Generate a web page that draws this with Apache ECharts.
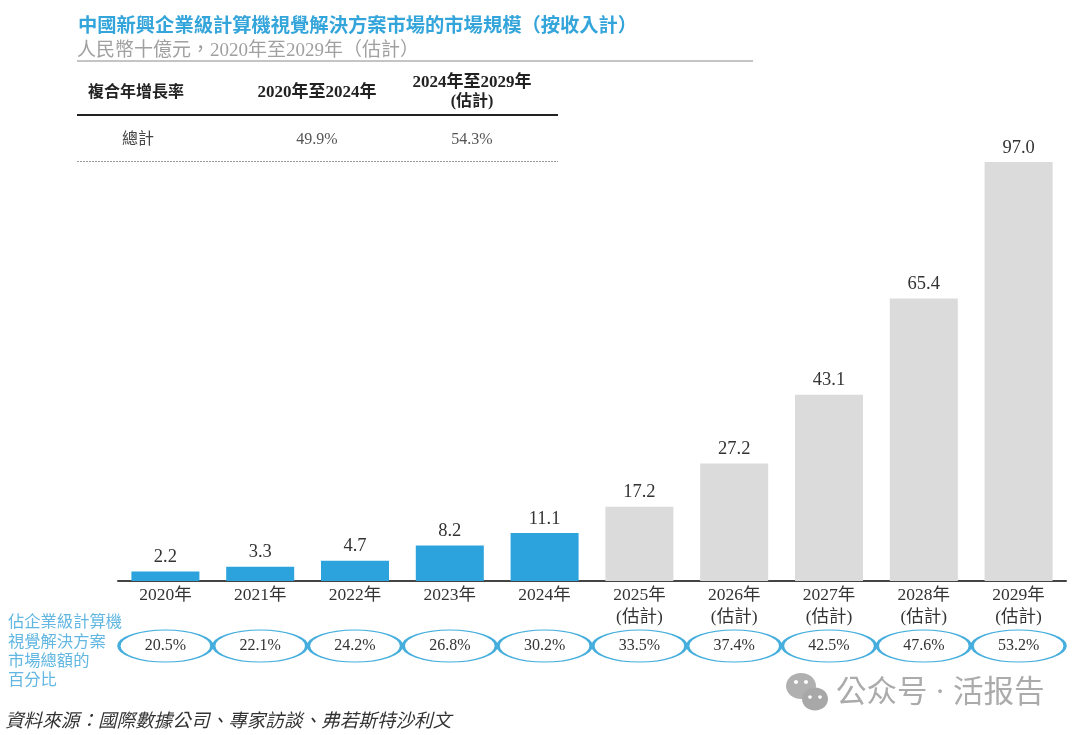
<!DOCTYPE html>
<html>
<head>
<meta charset="utf-8">
<script src="https://cdn.jsdelivr.net/npm/echarts@6/dist/echarts.min.js"></script>
<style>
  html, body { margin: 0; padding: 0; background: #fff; }
  #chart { width: 1080px; height: 735px; }
</style>
</head>
<body>
<div id="chart"></div>
<script>
  const years = ["2020年", "2021年", "2022年", "2023年", "2024年", "2025年\n(估計)", "2026年\n(估計)", "2027年\n(估計)", "2028年\n(估計)", "2029年\n(估計)"];
  const marketSize = [2.2, 3.3, 4.7, 8.2, 11.1, 17.2, 27.2, 43.1, 65.4, 97.0];
  const sharePercent = [20.5, 22.1, 24.2, 26.8, 30.2, 33.5, 37.4, 42.5, 47.6, 53.2];
  const actualYears = 5;

  const titleText = "中國新興企業級計算機視覺解決方案市場的市場規模（按收入計）";
  const subtitleText = "人民幣十億元，2020年至2029年（估計）";
  const cagrHeader = ["複合年增長率", "2020年至2024年", "2024年至2029年", "(估計)"];
  const cagrRow = ["總計", "49.9%", "54.3%"];
  const shareCaption = ["佔企業級計算機", "視覺解決方案", "市場總額的", "百分比"];
  const sourceText = "資料來源：國際數據公司、專家訪談、弗若斯特沙利文";
  const watermarkText = "公众号 · 活报告";

  const BLUE = "#2ca3dc";
  const GREY = "#dbdbdb";
  const FONT = '"Liberation Serif", "Noto Sans CJK TC", serif';
  const ELLIPSE = "path://M0 50A100 50 0 1 1 200 50A100 50 0 1 1 0 50Z";

  const txt = (text, x, y, size, fill, opt = {}) => ({
    type: "text",
    silent: true,
    style: {
      text,
      x,
      y,
      fill,
      font: `${opt.style || "normal"} ${opt.weight || "normal"} ${size}px ${FONT}`,
      textAlign: opt.align || "left",
      textVerticalAlign: "middle",
    },
  });
  const rule = (x1, x2, y, stroke, lineWidth, lineDash) => ({
    type: "line",
    silent: true,
    shape: { x1, y1: y, x2, y2: y },
    style: { stroke, lineWidth, lineDash },
  });
  const blob = (cx, cy, rx, ry, fill) => ({
    type: "ellipse",
    silent: true,
    shape: { cx, cy, rx, ry },
    style: { fill },
  });

  const chart = echarts.init(document.getElementById("chart"));
  chart.setOption({
    animation: false,
    backgroundColor: "#fff",
    textStyle: { fontFamily: FONT },
    grid: [
      { left: 118, width: 948, top: 162, height: 419 },
      { left: 118, width: 948, top: 629, height: 34 },
    ],
    xAxis: [
      {
        type: "category",
        gridIndex: 0,
        data: years,
        axisTick: { show: false },
        axisLine: { lineStyle: { color: "#444", width: 2 } },
        axisLabel: { color: "#333", fontSize: 17.5, lineHeight: 22, margin: 3, fontFamily: FONT, interval: 0 },
      },
      {
        type: "category",
        gridIndex: 1,
        data: years,
        show: false,
      },
    ],
    yAxis: [
      { type: "value", gridIndex: 0, min: 0, max: 97, show: false },
      { type: "category", gridIndex: 1, data: ["share"], show: false },
    ],
    series: [
      {
        type: "bar",
        xAxisIndex: 0,
        yAxisIndex: 0,
        barWidth: 68,
        data: marketSize.map((v, i) => ({
          value: v,
          itemStyle: { color: i < actualYears ? BLUE : GREY },
        })),
        label: {
          show: true,
          position: "top",
          distance: 5,
          color: "#333",
          fontSize: 18.5,
          fontFamily: FONT,
          formatter: (p) => p.value.toFixed(1),
        },
      },
      {
        type: "scatter",
        xAxisIndex: 1,
        yAxisIndex: 1,
        symbol: ELLIPSE,
        symbolKeepAspect: false,
        symbolSize: [93, 32],
        itemStyle: { color: "#fff", borderColor: "#45aedd", borderWidth: 2, opacity: 1 },
        data: sharePercent.map((v, i) => [i, 0, v]),
        label: {
          show: true,
          position: "inside",
          color: "#333",
          fontSize: 16,
          fontFamily: FONT,
          formatter: (p) => p.value[2].toFixed(1) + "%",
        },
      },
    ],
    graphic: {
      elements: [
        txt(titleText, 78, 27, 19.3, "#34a5da", { weight: "bold" }),
        txt(subtitleText, 77, 51, 19, "#a0a0a0"),
        rule(77, 753, 61, "#8a8a8a", 1),

        txt(cagrHeader[0], 88, 93, 16, "#222", { weight: "bold" }),
        txt(cagrHeader[1], 317, 93, 17, "#222", { weight: "bold", align: "center" }),
        txt(cagrHeader[2], 472, 83, 17, "#222", { weight: "bold", align: "center" }),
        txt(cagrHeader[3], 472, 102, 16, "#222", { weight: "bold", align: "center" }),
        rule(77, 558, 115, "#222", 2),
        txt(cagrRow[0], 122, 140, 16, "#444"),
        txt(cagrRow[1], 317, 140, 16, "#555", { align: "center" }),
        txt(cagrRow[2], 472, 140, 16, "#555", { align: "center" }),
        rule(77, 558, 161.5, "#999", 1, [2, 1]),

        ...shareCaption.map((line, i) => txt(line, 8, 623 + i * 19.3, 16.3, "#62b7e2")),
        txt(sourceText, 5, 722, 18.6, "#333", { style: "italic" }),

        blob(801, 686, 15, 13, "#b0b0b0"),
        blob(796, 682, 2, 2, "#fff"),
        blob(806, 682, 2, 2, "#fff"),
        blob(815, 699, 13, 11.5, "#a8a8a8"),
        blob(810, 697, 1.8, 1.8, "#fff"),
        blob(820, 697, 1.8, 1.8, "#fff"),
        txt(watermarkText, 836, 694, 30.5, "#ababab"),
      ],
    },
  });
</script>
</body>
</html>
